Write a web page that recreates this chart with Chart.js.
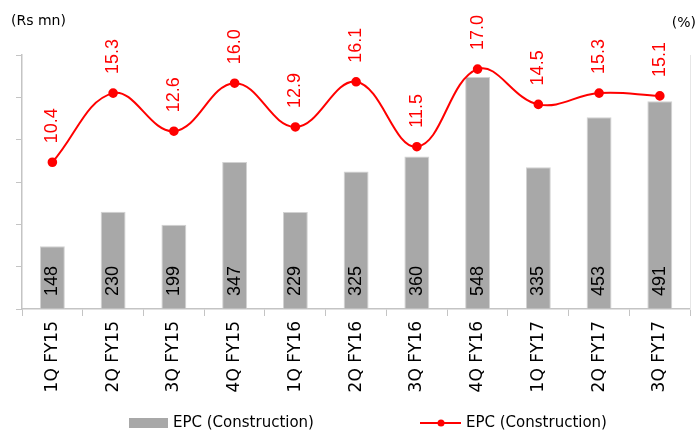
<!DOCTYPE html>
<html>
<head>
<meta charset="utf-8">
<script src="https://cdn.jsdelivr.net/npm/chart.js@4"></script>
<style>
  html, body { margin: 0; padding: 0; background: #fff; }
  #wrap { position: relative; width: 696px; height: 431px; }
</style>
</head>
<body>
<div id="wrap"><canvas id="chart" width="696" height="431"></canvas></div>
<script>
// data
const quarters = ["1Q FY15", "2Q FY15", "3Q FY15", "4Q FY15", "1Q FY16", "2Q FY16",
  "3Q FY16", "4Q FY16", "1Q FY17", "2Q FY17", "3Q FY17"];
const revenue = [148, 230, 199, 347, 229, 325, 360, 548, 335, 453, 491];
const margin = [10.4, 15.3, 12.6, 16.0, 12.9, 16.1, 11.5, 17.0, 14.5, 15.3, 15.1];
const seriesName = "EPC (Construction)";

const FONT = "'DejaVu Sans', sans-serif";
const axisGrey = "#c4c4c4";

// rotated value labels, axis titles and the legend
const labelPlugin = {
  id: "labels",
  afterDatasetsDraw(chart) {
    const ctx = chart.ctx;
    const bars = chart.getDatasetMeta(0).data;
    const dots = chart.getDatasetMeta(1).data;
    const base = chart.scales.x.top;

    ctx.save();
    ctx.font = "18px 'Liberation Sans', Arial, sans-serif";
    ctx.textBaseline = "middle";
    bars.forEach((b, i) => {
      ctx.save();
      ctx.translate(b.x, base - 13);
      ctx.rotate(-Math.PI / 2);
      ctx.textAlign = "left";
      ctx.fillStyle = "#000";
      ctx.fillText(String(revenue[i]), 0, 0);
      ctx.restore();
    });
    dots.forEach((p, i) => {
      ctx.save();
      ctx.translate(p.x, p.y - 19);
      ctx.rotate(-Math.PI / 2);
      ctx.textAlign = "left";
      ctx.fillStyle = "#ff0000";
      ctx.fillText(margin[i].toFixed(1), 0, 0);
      ctx.restore();
    });

    // axis titles
    ctx.fillStyle = "#000";
    ctx.font = "14px " + FONT;
    ctx.textAlign = "left";
    ctx.fillText("(Rs mn)", 11, 21);
    ctx.textAlign = "right";
    ctx.fillText("(%)", 696, 23);

    // legend
    ctx.font = "15px " + FONT;
    ctx.textAlign = "left";
    ctx.fillStyle = "#a8a8a8";
    ctx.fillRect(129, 418, 39, 10);
    ctx.fillStyle = "#000";
    ctx.fillText(seriesName, 173, 423);

    ctx.strokeStyle = "#ff0000";
    ctx.lineWidth = 2;
    ctx.beginPath();
    ctx.moveTo(420, 423);
    ctx.lineTo(461, 423);
    ctx.stroke();
    ctx.fillStyle = "#ff0000";
    ctx.beginPath();
    ctx.arc(441, 423, 3.5, 0, Math.PI * 2);
    ctx.fill();
    ctx.fillStyle = "#000";
    ctx.fillText(seriesName, 466, 423);
    ctx.restore();
  }
};

new Chart(document.getElementById("chart"), {
  data: {
    labels: quarters,
    datasets: [
      {
        type: "bar",
        label: seriesName,
        data: revenue,
        yAxisID: "y",
        backgroundColor: "#a8a8a8",
        borderColor: "#d2d2d2",
        borderWidth: 1,
        barPercentage: 0.41,
        categoryPercentage: 1,
        order: 2
      },
      {
        type: "line",
        label: seriesName,
        data: margin,
        yAxisID: "y1",
        borderColor: "#ff0000",
        backgroundColor: "#ff0000",
        borderWidth: 2,
        pointRadius: 3.8,
        pointHoverRadius: 3.8,
        tension: 0.4,
        order: 1
      }
    ]
  },
  options: {
    responsive: false,
    animation: false,
    layout: { padding: { top: 55, bottom: 32, left: 0, right: 1 } },
    plugins: { legend: { display: false }, tooltip: { enabled: false } },
    scales: {
      x: {
        grid: { drawOnChartArea: false, color: axisGrey, tickLength: 7 },
        border: { color: axisGrey, width: 1.5 },
        ticks: {
          minRotation: 90, maxRotation: 90, color: "#000", padding: 5,
          font: { family: FONT, size: 17 }
        },
        afterFit(s) { s.height = 90; }
      },
      y: {
        position: "left",
        min: 0, max: 600,
        ticks: { stepSize: 100, display: false },
        grid: { drawOnChartArea: false, color: axisGrey, tickLength: 6 },
        border: { color: axisGrey, width: 1.5 },
        afterFit(s) { s.width = 22; }
      },
      y1: {
        position: "right",
        min: 0, max: 18,
        ticks: { display: false },
        grid: { display: false },
        border: { color: "#e6e6e6", width: 1 },
        afterFit(s) { s.width = 0; }
      }
    }
  },
  plugins: [labelPlugin]
});
</script>
</body>
</html>
